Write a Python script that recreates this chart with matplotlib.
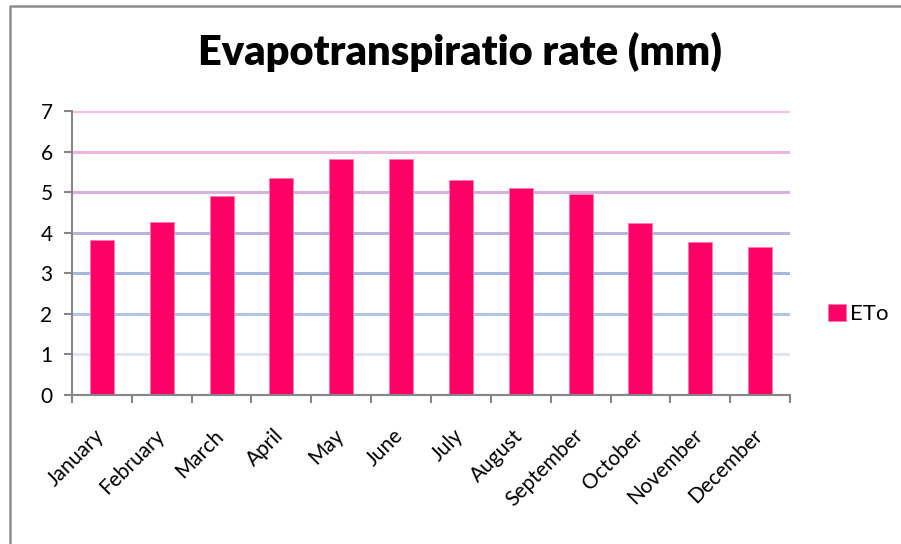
import matplotlib.pyplot as plt
import matplotlib.lines as mlines
import matplotlib.transforms as mtransforms
import numpy as np

# Monthly ETo values (mm)
months = ["January", "February", "March", "April", "May", "June",
          "July", "August", "September", "October", "November", "December"]
eto = [3.81, 4.27, 4.91, 5.34, 5.81, 5.81, 5.31, 5.11, 4.95, 4.23, 3.77, 3.64]
y_ticks = [0, 1, 2, 3, 4, 5, 6, 7]
grid_colors = ["#dde5f1", "#b2c5e5", "#a8b7e0", "#bbb2de", "#d6b1dd", "#ebb6e0", "#f9bce6"]

plt.rcParams['font.family'] = ['Lato', 'DejaVu Sans']

fig = plt.figure(figsize=(9.01, 5.44), dpi=100)
ax = fig.add_axes([72 / 901, 1 - 395 / 544, (790 - 72) / 901, (395 - 111) / 544])

# Outer chart border: only the left and top edges are inside the image
bx, by = 10 / 901, 1 - 6 / 544
fig.lines.append(mlines.Line2D([bx, bx, 1.0], [0.0, by, by], transform=fig.transFigure,
                               color="#8c8c8c", linewidth=1.8))

x = np.arange(len(months))

# Gridlines, coloured from light blue at the bottom to pink at the top
for val, col in zip(y_ticks[1:], grid_colors):
    ax.axhline(val, color=col, linewidth=2.2, zorder=1)

ax.bar(x, eto, width=0.4, color="#ff0066", edgecolor="#ff7ab0", linewidth=0.6,
       zorder=2, label="ETo")

ax.set_xlim(-0.5, len(months) - 0.5)
ax.set_ylim(0, 7)
ax.set_yticks(y_ticks)
ax.tick_params(axis="y", labelsize=15, length=6, width=1.5, color="#868686", pad=8)

ax.set_xticks(x)
ax.set_xticklabels(months, rotation=45, ha="right", rotation_mode="anchor", fontsize=15)
ax.tick_params(axis="x", which="major", length=0, pad=22)
ax.set_xticks(np.arange(-0.5, len(months), 1.0), minor=True)
ax.tick_params(axis="x", which="minor", length=6, width=1.5, color="#868686")
shift = mtransforms.ScaledTranslation(-8 / 100, 0, fig.dpi_scale_trans)
for lbl in ax.get_xticklabels():
    lbl.set_transform(lbl.get_transform() + shift)

for side in ["top", "right"]:
    ax.spines[side].set_visible(False)
for side in ["left", "bottom"]:
    ax.spines[side].set_color("#868686")
    ax.spines[side].set_linewidth(1.5)

fig.text(460 / 901, 1 - 52 / 544, "Evapotranspiratio rate (mm)", ha="center", va="center",
         fontsize=30, fontweight="heavy")

ax.legend(loc="center left", bbox_to_anchor=(808 / 901, 1 - 314 / 544),
          bbox_transform=fig.transFigure, frameon=False, fontsize=16,
          handlelength=0.8, handleheight=0.8, handletextpad=0.2)

fig.savefig("out.png", dpi=100)
